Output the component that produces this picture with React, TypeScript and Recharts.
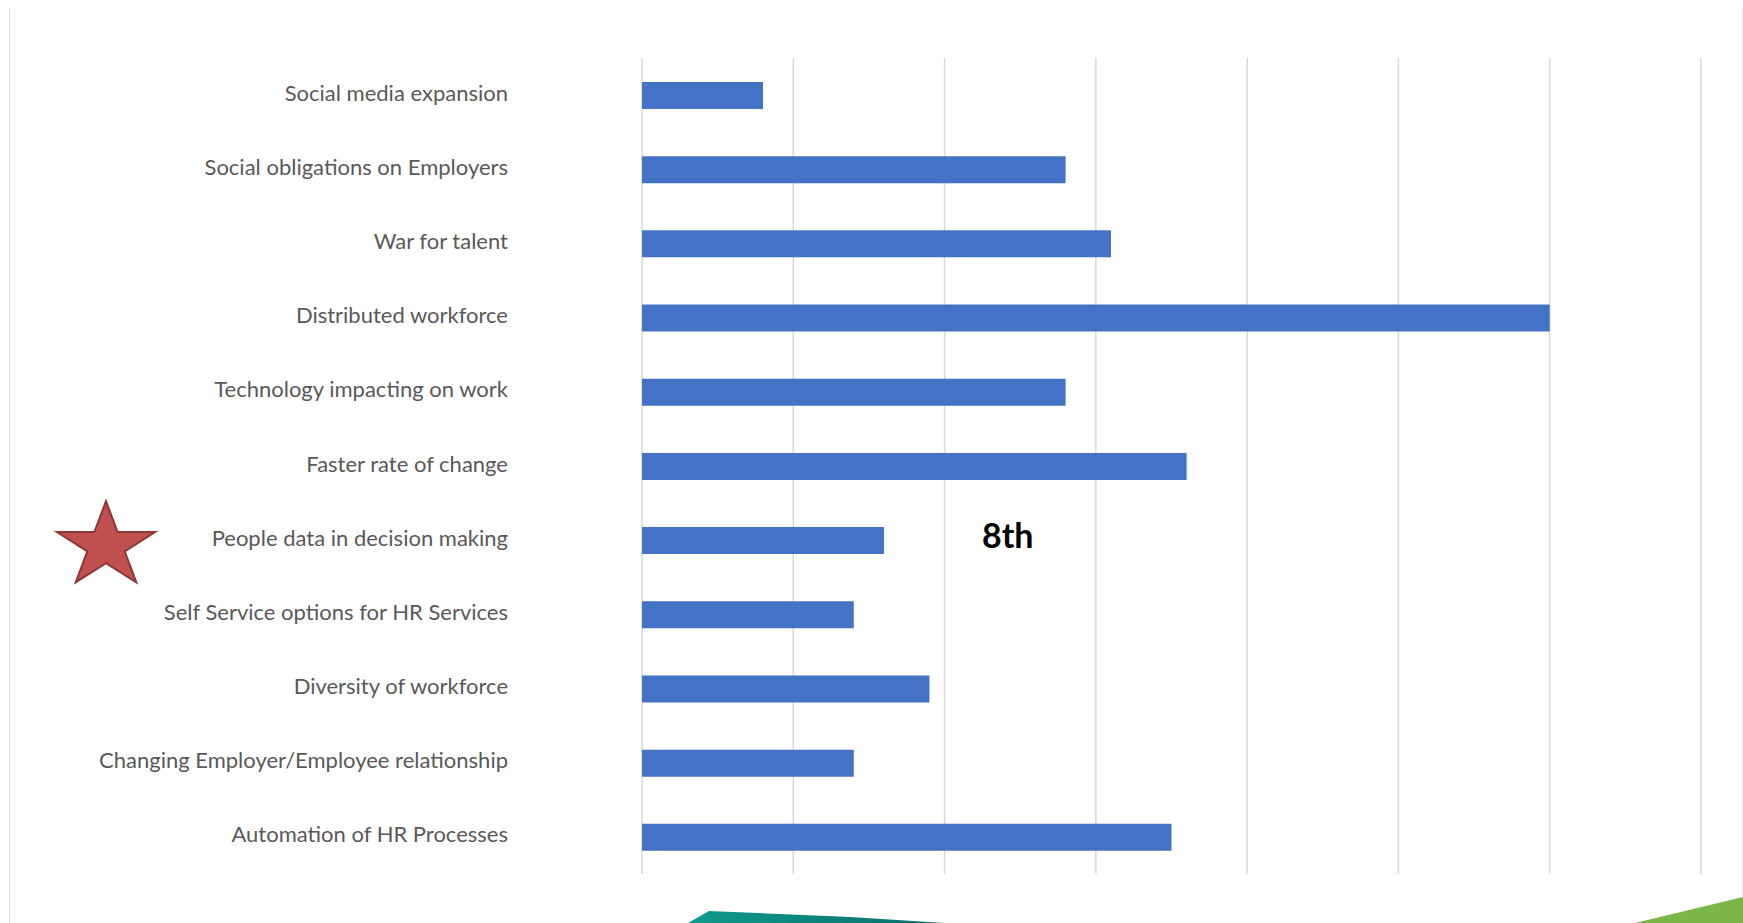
import { BarChart, Bar, XAxis, YAxis, CartesianGrid } from "recharts";

const categories = [
  "Social media expansion",
  "Social obligations on Employers",
  "War for talent",
  "Distributed workforce",
  "Technology impacting on work",
  "Faster rate of change",
  "People data in decision making",
  "Self Service options for HR Services",
  "Diversity of workforce",
  "Changing Employer/Employee relationship",
  "Automation of HR Processes",
];

const counts = [8, 28, 31, 60, 28, 36, 16, 14, 19, 14, 35];

const xTicks = [0, 10, 20, 30, 40, 50, 60, 70];

const data = categories.map((name, i) => ({ name, count: counts[i] }));

function CategoryTick({ x, y, payload }: any) {
  return (
    <text
      x={x}
      y={y}
      dy={-3}
      textAnchor="end"
      dominantBaseline="central"
      fill="#595959"
      fontSize={22}
      fontFamily="Lato"
    >
      {payload.value}
    </text>
  );
}

// red star next to the highlighted row, slightly squashed like the slide
function starPoints(cx: number, cy: number, rx: number, ry: number) {
  const pts: string[] = [];
  for (let i = 0; i < 10; i++) {
    const r = i % 2 === 0 ? 1 : 0.382;
    const a = -Math.PI / 2 + (i * Math.PI) / 5;
    pts.push(`${cx + Math.cos(a) * rx * r},${cy + Math.sin(a) * ry * r}`);
  }
  return pts.join(" ");
}

export default function App() {
  return (
    <div
      style={{
        position: "absolute",
        left: 0,
        top: 0,
        width: 1743,
        height: 923,
        background: "#fff",
        overflow: "hidden",
      }}
    >
      <div
        style={{
          position: "absolute",
          left: 9,
          top: 8,
          width: 1732,
          height: 915,
          borderLeft: "1.5px solid #dcdcdc",
          borderRight: "1.5px solid #e6e6e6",
        }}
      />
      <BarChart
        width={1743}
        height={923}
        data={data}
        layout="vertical"
        margin={{ top: 58, right: 42, bottom: 49, left: 0 }}
        barCategoryGap={0}
      >
        <CartesianGrid horizontal={false} stroke="#d9d9d9" strokeWidth={1.5} />
        <XAxis
          type="number"
          domain={[0, 70]}
          ticks={xTicks}
          tick={() => <g />}
          axisLine={false}
          tickLine={false}
          height={0}
        />
        <YAxis
          type="category"
          dataKey="name"
          width={642}
          axisLine={false}
          tickLine={false}
          tickMargin={128}
          interval={0}
          tick={<CategoryTick />}
        />
        <Bar dataKey="count" fill="#4472C4" barSize={27} isAnimationActive={false} />
      </BarChart>
      <svg
        width={1743}
        height={923}
        style={{ position: "absolute", left: 0, top: 0, pointerEvents: "none" }}
      >
        <defs>
          <linearGradient id="teal" x1="0" y1="0" x2="1" y2="0">
            <stop offset="0%" stopColor="#0f9a8c" />
            <stop offset="100%" stopColor="#0b6e6b" />
          </linearGradient>
        </defs>
        <polygon
          points={starPoints(106, 546, 51.5, 45)}
          fill="#C0504D"
          stroke="#8C3836"
          strokeWidth={2}
        />
        <text
          x={982}
          y={548}
          fontFamily="Lato"
          fontWeight="bold"
          fontSize={34}
          fill="#000"
        >
          8th
        </text>
        <polygon points="688,923 709,911 850,917 945,923" fill="url(#teal)" />
        <polygon points="1635,923 1743,897 1743,923" fill="#7AB648" />
      </svg>
    </div>
  );
}
